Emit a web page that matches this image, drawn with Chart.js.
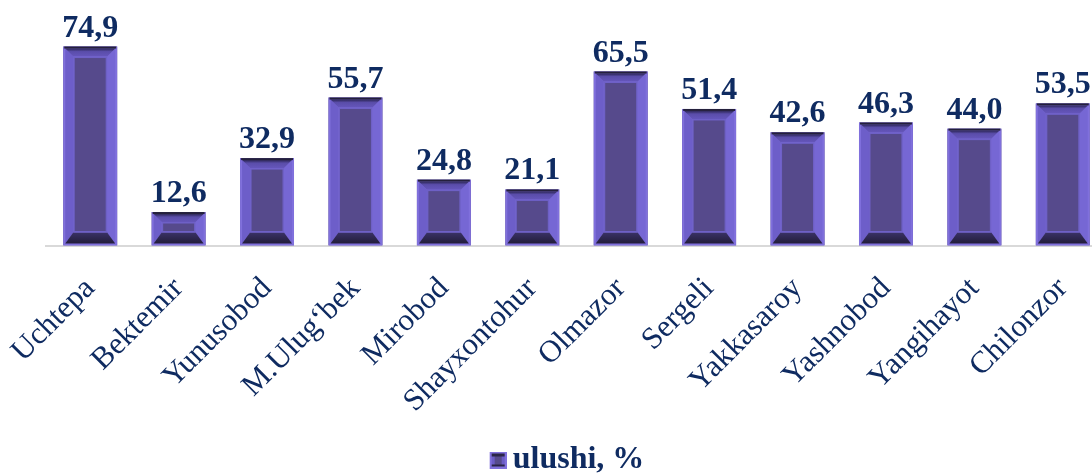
<!DOCTYPE html>
<html>
<head>
<meta charset="utf-8">
<script src="https://cdn.jsdelivr.net/npm/chart.js@4.4.1/dist/chart.umd.min.js"></script>
<style>
  html, body { margin: 0; padding: 0; background: #fff; overflow: hidden; }
  #wrap { position: relative; width: 1140px; height: 474px; }
</style>
</head>
<body>
<div id="wrap"><canvas id="myChart"></canvas></div>
<script>
var labels = ['Uchtepa', 'Bektemir', 'Yunusobod', 'M.Ulug\u2018bek', 'Mirobod', 'Shayxontohur',
  'Olmazor', 'Sergeli', 'Yakkasaroy', 'Yashnobod', 'Yangihayot', 'Chilonzor'];
var ulushi = [74.9, 12.6, 32.9, 55.7, 24.8, 21.1, 65.5, 51.4, 42.6, 46.3, 44.0, 53.5];
var seriesName = 'ulushi, %';

var navy = '#0f2b61';
var serif = "'Liberation Serif', 'Times New Roman', serif";

// draws the bevelled look of one bar
function bevel(ctx, x0, y0, x1, y1) {
  var w = x1 - x0, h = y1 - y0;
  ctx.save();
  ctx.fillStyle = '#8070dc';
  ctx.fillRect(x0, y0, w, h);
  var o = 2;
  var ax = x0 + o, ay = y0 + o, bx = x1 - o, by = y1 - o;
  var b = Math.min(8, w / 4, h / 4);
  var bb = Math.min(11, h / 3);
  var ix = ax + b, iy = ay + b, jx = bx - b, jy = by - bb;

  function quad(p, fill) {
    ctx.beginPath();
    ctx.moveTo(p[0], p[1]);
    for (var i = 2; i < p.length; i += 2) ctx.lineTo(p[i], p[i + 1]);
    ctx.closePath();
    ctx.fillStyle = fill;
    ctx.fill();
  }
  // left / right
  quad([ax, ay, ix, iy, ix, jy, ax, by], '#6d5ec9');
  quad([bx, ay, jx, iy, jx, jy, bx, by], '#7667d4');
  // top
  var gt = ctx.createLinearGradient(0, y0, 0, iy);
  gt.addColorStop(0, '#24203c');
  gt.addColorStop(0.3, '#3b3372');
  gt.addColorStop(0.5, '#5a4daa');
  gt.addColorStop(1, '#6556bb');
  quad([ax, ay, bx, ay, jx, iy, ix, iy], gt);
  ctx.fillStyle = '#24203c';
  ctx.fillRect(x0 + 1, y0, w - 2, 2);
  // bottom
  var gb = ctx.createLinearGradient(0, jy, 0, by);
  gb.addColorStop(0, '#3a3266');
  gb.addColorStop(1, '#221d3a');
  quad([ax, by, bx, by, jx, jy, ix, jy], gb);
  // face
  ctx.fillStyle = '#6e60c6';
  ctx.fillRect(ix, iy, jx - ix, jy - iy);
  ctx.fillStyle = '#564a8c';
  ctx.fillRect(ix + 1.5, iy + 1.5, jx - ix - 3, jy - iy - 3);
  ctx.restore();
}

var bevelPlugin = {
  id: 'bevel',
  afterDatasetsDraw: function (chart) {
    var ctx = chart.ctx;
    chart.getDatasetMeta(0).data.forEach(function (el) {
      var half = el.width / 2;
      bevel(ctx, el.x - half, el.y, el.x + half, el.base);
    });
    // value labels
    ctx.save();
    ctx.font = 'bold 32px ' + serif;
    ctx.fillStyle = navy;
    ctx.textAlign = 'center';
    ctx.textBaseline = 'alphabetic';
    chart.getDatasetMeta(0).data.forEach(function (el, i) {
      ctx.fillText(ulushi[i].toFixed(1).replace('.', ','), el.x, el.y - 10);
    });
    ctx.restore();
  }
};

// legend marker (square sits at the right part of the image)
var marker = document.createElement('canvas');
marker.width = 21;
marker.height = 17;
(function () {
  var m = marker.getContext('2d');
  m.translate(4, 0);
  m.fillStyle = '#8070dc';
  m.fillRect(0, 0, 17, 17);
  m.fillStyle = '#2b2648';
  m.fillRect(2, 2, 13, 3);
  m.fillStyle = '#6b5cc6';
  m.fillRect(2, 5, 3, 9);
  m.fillRect(12, 5, 3, 9);
  m.fillStyle = '#2a2446';
  m.fillRect(2, 13, 13, 2);
  m.fillStyle = '#564a8c';
  m.fillRect(5, 5, 7, 8);
})();

var ctx = document.getElementById('myChart').getContext('2d');
var chart = new Chart(ctx, {
  type: 'bar',
  data: {
    labels: labels,
    datasets: [
      {
        label: seriesName,
        backgroundColor: '#564a8c',
        borderWidth: 0,
        barPercentage: 0.61,
        categoryPercentage: 1,
        data: ulushi
      }
    ]
  },
  options: {
    responsive: true,
    maintainAspectRatio: false,
    animation: false,
    layout: {
      padding: { left: 0, right: 0, top: 33, bottom: -12 }
    },
    plugins: {
      tooltip: { enabled: false },
      legend: {
        position: 'bottom',
        labels: {
          usePointStyle: true,
          pointStyle: marker,
          pointStyleWidth: 1,
          color: navy,
          padding: 0,
          font: { family: serif, size: 32, weight: 'bold' }
        }
      }
    },
    scales: {
      y: {
        display: true,
        min: 0,
        max: 80,
        grid: { display: false },
        border: { display: false },
        ticks: { display: false },
        afterFit: function (scale) {
          scale.width = 46;
        }
      },
      yRight: {
        position: 'right',
        display: true,
        grid: { display: false },
        border: { display: false },
        ticks: { display: false },
        afterFit: function (scale) {
          scale.width = 33;
        }
      },
      x: {
        grid: { display: false, drawTicks: false },
        border: { display: true, color: '#d9d9d9', width: 2 },
        ticks: {
          color: navy,
          maxRotation: 45,
          minRotation: 45,
          padding: 25,
          font: { family: serif, size: 31 }
        },
        afterFit: function (scale) {
          scale.height = 198.5;
          scale.paddingLeft = 0;
          scale.paddingRight = 0;
        }
      }
    }
  },
  plugins: [bevelPlugin]
});
</script>
</body>
</html>
